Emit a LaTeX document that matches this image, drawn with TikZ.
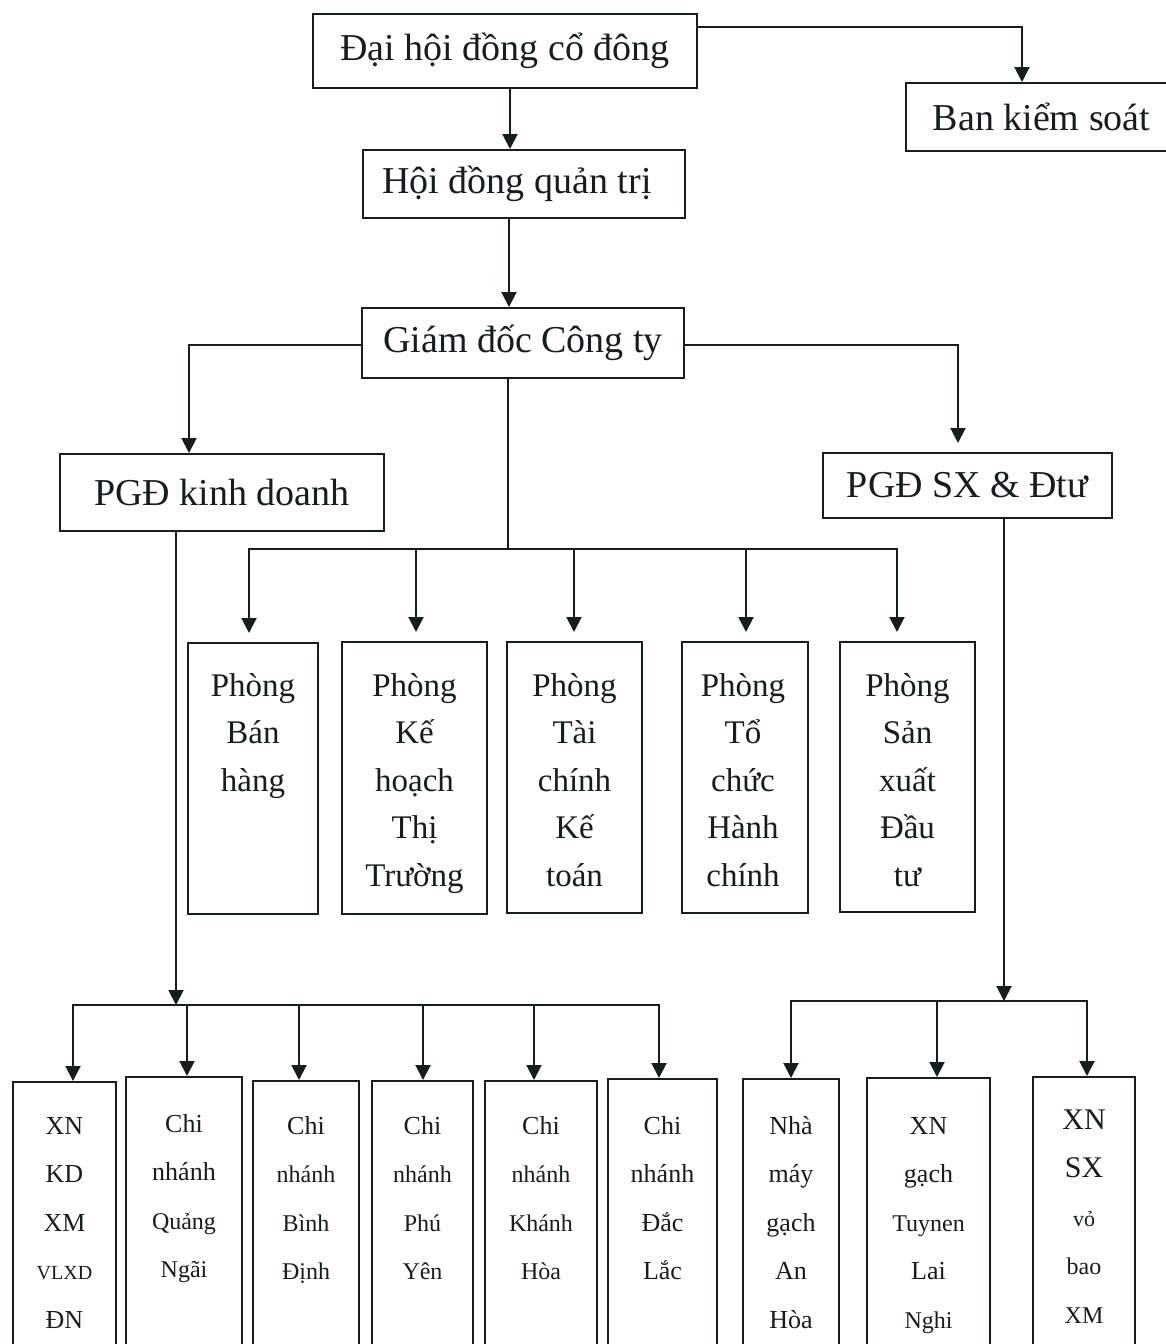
\documentclass[tikz,border=0pt]{standalone}
\usepackage{fontspec}
\setmainfont{Liberation Serif}
\usetikzlibrary{arrows.meta,calc}
\definecolor{ink}{RGB}{20,30,30}
\begin{document}
\begin{tikzpicture}[x=0.5pt,y=-0.5pt,
  line width=1pt, color=ink,
  box/.style={draw=ink, line width=1pt, inner sep=0pt, anchor=north west},
  sz/.style 2 args={minimum width=#1*0.5pt, minimum height=#2*0.5pt},
  title/.style={font=\fontsize{19}{23}\selectfont},
  ptxt/.style={anchor=north, align=center, inner sep=0pt, font=\fontsize{16.5}{23.75}\selectfont},
  btxt/.style={anchor=north, align=center, inner sep=0pt, font=\fontsize{13}{24.25}\selectfont},
  arr/.style={draw=ink, line width=1pt, -{Triangle[length=7.5pt,width=7.5pt]}},
  arrg/.style={arr, shorten >=4.5pt},
]
\useasboundingbox (0,0) rectangle (1166,1344);
\fill[white] (0,0) rectangle (1166,1344);
\clip (0,0) rectangle (1166,1344);

% top level boxes
\node[box,sz={384}{74},title] (dh) at (312,13) {\raisebox{-1.5pt}{Đại hội đồng cổ đông}};
\node[box,sz={275}{68},title] (ban) at (905,82) {\raisebox{-1pt}{Ban kiểm soát}\kern 2pt};
\node[box,sz={322}{68},title] (hd) at (362,149) {Hội đồng quản trị\kern 7pt};
\node[box,sz={322}{70},title] (gd) at (361,307) {\raisebox{-1pt}{Giám đốc Công ty}};
\node[box,sz={324}{77},title] (pk) at (59,453) {PGĐ kinh doanh};
\node[box,sz={289}{65},title] (ps) at (822,452) {\raisebox{-2pt}{PGĐ SX \& Đtư}};

% departments
\node[box,sz={130}{271}] (pb) at (187,642) {};
\node[box,sz={145}{272}] (pkh) at (341,641) {};
\node[box,sz={135}{271}] (ptc) at (506,641) {};
\node[box,sz={126}{271}] (ptcc) at (681,641) {};
\node[box,sz={135}{270}] (psx) at (839,641) {};

\node[ptxt] (pb-t) at ($(pb.north)+(0,20)$) {\rule{0pt}{16.5pt}Phòng\\Bán\\hàng};
\node[ptxt] (pkh-t) at ($(pkh.north)+(0,21)$) {\rule{0pt}{16.5pt}Phòng\\Kế\\hoạch\\Thị\\Trường};
\node[ptxt] (ptc-t) at ($(ptc.north)+(0,21)$) {\rule{0pt}{16.5pt}Phòng\\Tài\\chính\\Kế\\toán};
\node[ptxt] (ptcc-t) at ($(ptcc.north)+(-2,21)$) {\rule{0pt}{16.5pt}Phòng\\Tổ\\chức\\Hành\\chính};
\node[ptxt] (psx-t) at ($(psx.north)+(0,21)$) {\rule{0pt}{16.5pt}Phòng\\Sản\\xuất\\Đầu\\tư};

% bottom units
\node[box,sz={103}{319}] (b1) at (12,1081) {};
\node[box,sz={116}{324}] (b2) at (125,1076) {};
\node[box,sz={106}{320}] (b3) at (252,1080) {};
\node[box,sz={101}{320}] (b4) at (371,1080) {};
\node[box,sz={112}{320}] (b5) at (484,1080) {};
\node[box,sz={109}{322}] (b6) at (607,1078) {};
\node[box,sz={96}{322}] (b7) at (742,1078) {};
\node[box,sz={123}{323}] (b8) at (866,1077) {};
\node[box,sz={102}{324}] (b9) at (1032,1076) {};

\node[btxt] (b1-t) at ($(b1.north)+(0,26)$) {\rule{0pt}{13pt}XN\\KD\\XM\\{\fontsize{10}{24.25}\selectfont VLXD}\\ĐN};
\node[btxt] (b2-t) at ($(b2.north)+(0,29)$) {\rule{0pt}{13pt}Chi\\nhánh\\{\fontsize{12}{24.25}\selectfont Quảng}\\{\fontsize{12}{24.25}\selectfont Ngãi}};
\node[btxt] (b3-t) at ($(b3.north)+(0,27)$) {\rule{0pt}{13pt}Chi\\{\fontsize{12}{24.25}\selectfont nhánh}\\{\fontsize{12}{24.25}\selectfont Bình}\\{\fontsize{12}{24.25}\selectfont Định}};
\node[btxt] (b4-t) at ($(b4.north)+(0,27)$) {\rule{0pt}{13pt}Chi\\{\fontsize{12}{24.25}\selectfont nhánh}\\{\fontsize{12}{24.25}\selectfont Phú}\\{\fontsize{12}{24.25}\selectfont Yên}};
\node[btxt] (b5-t) at ($(b5.north)+(0,27)$) {\rule{0pt}{13pt}Chi\\{\fontsize{12}{24.25}\selectfont nhánh}\\{\fontsize{12}{24.25}\selectfont Khánh}\\{\fontsize{12}{24.25}\selectfont Hòa}};
\node[btxt] (b6-t) at ($(b6.north)+(0,29)$) {\rule{0pt}{13pt}Chi\\nhánh\\Đắc\\Lắc};
\node[btxt] (b7-t) at ($(b7.north)+(0,29)$) {\rule{0pt}{13pt}Nhà\\máy\\gạch\\An\\Hòa};
\node[btxt] (b8-t) at ($(b8.north)+(0,30)$) {\rule{0pt}{13pt}XN\\gạch\\{\fontsize{12}{24.25}\selectfont Tuynen}\\Lai\\{\fontsize{12}{24.25}\selectfont Nghi}};
\node[btxt] (b9-t) at ($(b9.north)+(0,26)$) {\rule{0pt}{13pt}{\fontsize{15}{24.25}\selectfont XN}\\{\fontsize{15}{24.25}\selectfont SX}\\{\fontsize{11}{24.25}\selectfont vỏ}\\{\fontsize{12}{24.25}\selectfont bao}\\{\fontsize{12}{24.25}\selectfont XM}};

% connectors: top
\draw[arr] ($(dh.north east)+(0,14)$) -| ($(ban.north)+(-21.5,0)$);
\coordinate (a1) at ($(dh.south)+(5,0)$);
\draw[arr] (a1) -- (a1 |- hd.north);
\coordinate (a2) at ($(hd.south)+(-15,0)$);
\draw[arr] (a2) -- (a2 |- gd.north);
\draw[arr] ($(gd.west)+(0,2)$) -| ($(pk.north)+(-33,0)$);
\draw[arrg] ($(gd.east)+(0,2)$) -| ($(ps.north)+(-9.5,0)$);

% connectors: departments
\coordinate (a3) at ($(gd.south)+(-15,0)$);
\coordinate (bus1) at ($(a3)+(0,170)$);
\draw (a3) -- (bus1);
\draw[arrg] (bus1) -| ($(pb.north)+(-4,0)$);
\draw[arrg] (bus1) -| ($(psx.north)+(-10.5,0)$);
\foreach \n/\dx in {pkh/1.5, ptc/-0.5, ptcc/1} {
  \coordinate (\n-x) at ($(\n.north)+(\dx,0)$);
  \draw[arrg] (bus1 -| \n-x) -- (\n-x);
}

% connectors: business branches
\coordinate (a4) at ($(pk.south)+(-46,0)$);
\coordinate (bus2) at ($(a4)+(0,473)$);
\draw[arr] (a4) -- (bus2);
\draw[arr] (bus2) -| ($(b1.north)+(8.5,0)$);
\draw[arr] (bus2) -| ($(b6.north)+(-3.5,0)$);
\foreach \n/\dx in {b2/3, b3/-7, b4/0.5, b5/-7} {
  \coordinate (\n-x) at ($(\n.north)+(\dx,0)$);
  \draw[arr] (bus2 -| \n-x) -- (\n-x);
}

% connectors: production units
\coordinate (a5) at ($(ps.south)+(36.5,0)$);
\coordinate (bus3) at ($(a5)+(0,482)$);
\draw[arr] (a5) -- (bus3);
\draw[arr] (bus3) -| (b7.north);
\draw[arr] (bus3) -| ($(b9.north)+(3,0)$);
\coordinate (b8-x) at ($(b8.north)+(8.5,0)$);
\draw[arr] (bus3 -| b8-x) -- (b8-x);
\end{tikzpicture}
\end{document}
